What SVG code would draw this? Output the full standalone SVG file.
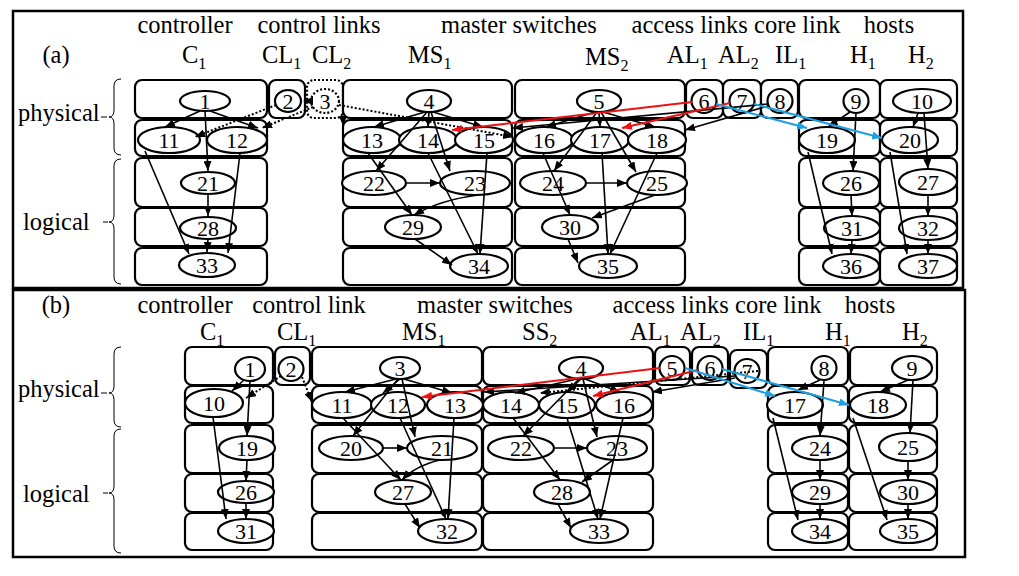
<svg xmlns="http://www.w3.org/2000/svg" width="1019" height="576" viewBox="0 0 1019 576" font-family="'Liberation Serif','Times New Roman',serif">
<style>
text{font-family:"Liberation Serif","Times New Roman",serif;fill:#000}
.h{font-size:24.5px}
.s{font-size:16px}
.n{font-size:22px;text-anchor:middle;dominant-baseline:central}
.box{fill:#fff;stroke:#000;stroke-width:2.2}
.dbox{fill:#fff;stroke:#000;stroke-width:2.2;stroke-dasharray:2 2}
.nd{fill:#fff;stroke:#000;stroke-width:2.2}
.dnd{fill:#fff;stroke:#000;stroke-width:2.2;stroke-dasharray:2 2}
.e{fill:none;stroke:#000;stroke-width:1.6;marker-end:url(#ab)}
.d{fill:none;stroke:#000;stroke-width:2;stroke-dasharray:2 2;marker-end:url(#ab)}
.r{fill:none;stroke:#ee1111;stroke-width:2;marker-end:url(#ar)}
.b{fill:none;stroke:#1ea0e0;stroke-width:2;marker-end:url(#abl)}
.br{fill:none;stroke:#000;stroke-width:1}
.frame{fill:none;stroke:#000;stroke-width:2.5}
</style>
<defs>
<marker id="ab" markerUnits="userSpaceOnUse" markerWidth="10" markerHeight="8" refX="10" refY="4" orient="auto"><path d="M0,0 L10,4 L0,8 z" fill="#000"/></marker>
<marker id="ar" markerUnits="userSpaceOnUse" markerWidth="10" markerHeight="8" refX="10" refY="4" orient="auto"><path d="M0,0 L10,4 L0,8 z" fill="#ee1111"/></marker>
<marker id="abl" markerUnits="userSpaceOnUse" markerWidth="10" markerHeight="8" refX="10" refY="4" orient="auto"><path d="M0,0 L10,4 L0,8 z" fill="#1ea0e0"/></marker>
</defs>
<rect width="1019" height="576" fill="#fff"/>

<!-- ================= PANEL (a) ================= -->
<rect class="frame" x="13" y="11" width="950" height="277"/>
<g id="a-labels">
<text class="h" x="185" y="33" text-anchor="middle">controller</text>
<text class="h" x="319" y="33" text-anchor="middle">control links</text>
<text class="h" x="519" y="33" text-anchor="middle">master switches</text>
<text class="h" x="736" y="33" text-anchor="middle">access links core link</text>
<text class="h" x="889" y="33" text-anchor="middle">hosts</text>
<text class="h" x="56" y="63" text-anchor="middle">(a)</text>
<text class="h" x="182" y="63">C<tspan class="s" dy="6">1</tspan></text>
<text class="h" x="262" y="63">CL<tspan class="s" dy="6">1</tspan></text>
<text class="h" x="312" y="63">CL<tspan class="s" dy="6">2</tspan></text>
<text class="h" x="408" y="63">MS<tspan class="s" dy="6">1</tspan></text>
<text class="h" x="585" y="65">MS<tspan class="s" dy="6">2</tspan></text>
<text class="h" x="667" y="63">AL<tspan class="s" dy="6">1</tspan></text>
<text class="h" x="718" y="63">AL<tspan class="s" dy="6">2</tspan></text>
<text class="h" x="775" y="63">IL<tspan class="s" dy="6">1</tspan></text>
<text class="h" x="850" y="63">H<tspan class="s" dy="6">1</tspan></text>
<text class="h" x="908" y="63">H<tspan class="s" dy="6">2</tspan></text>
<text class="h" x="18" y="121">physical</text>
<text class="h" x="23" y="230">logical</text>
<path class="br" d="M101,117 L107,117 M121,79 Q114,79 114,86 L114,110 Q114,117 109,117 Q114,117 114,124 L114,148 Q114,155 121,155"/>
<path class="br" d="M103,222 L108,222 M121,159 Q114,159 114,166 L114,215 Q114,222 109,222 Q114,222 114,229 L114,277 Q114,284 121,284"/>
</g>
<g id="a-boxes">
<rect class="box" x="135" y="80" width="132" height="38" rx="7"/>
<rect class="box" x="269" y="80" width="36" height="38" rx="7"/>
<rect class="dbox" x="307" y="80" width="36" height="38" rx="7"/>
<rect class="box" x="343" y="80" width="169" height="38" rx="7"/>
<rect class="box" x="515" y="80" width="170" height="38" rx="7"/>
<rect class="box" x="686" y="80" width="37" height="38" rx="7"/>
<rect class="box" x="723" y="80" width="38" height="38" rx="7"/>
<rect class="box" x="761" y="80" width="37" height="38" rx="7"/>
<rect class="box" x="799" y="80" width="81" height="38" rx="7"/>
<rect class="box" x="880" y="80" width="77" height="38" rx="7"/>
<rect class="box" x="135" y="120" width="132" height="36" rx="7"/>
<rect class="box" x="343" y="120" width="169" height="36" rx="7"/>
<rect class="box" x="515" y="120" width="170" height="36" rx="7"/>
<rect class="box" x="799" y="120" width="81" height="36" rx="7"/>
<rect class="box" x="880" y="120" width="77" height="36" rx="7"/>
<rect class="box" x="135" y="158" width="132" height="49" rx="7"/>
<rect class="box" x="343" y="158" width="169" height="49" rx="7"/>
<rect class="box" x="515" y="158" width="170" height="49" rx="7"/>
<rect class="box" x="799" y="158" width="81" height="49" rx="7"/>
<rect class="box" x="880" y="158" width="77" height="49" rx="7"/>
<rect class="box" x="135" y="208" width="132" height="38" rx="7"/>
<rect class="box" x="343" y="208" width="169" height="38" rx="7"/>
<rect class="box" x="515" y="208" width="170" height="38" rx="7"/>
<rect class="box" x="799" y="208" width="81" height="38" rx="7"/>
<rect class="box" x="880" y="208" width="77" height="38" rx="7"/>
<rect class="box" x="135" y="248" width="132" height="37" rx="7"/>
<rect class="box" x="343" y="248" width="169" height="37" rx="7"/>
<rect class="box" x="515" y="248" width="170" height="37" rx="7"/>
<rect class="box" x="799" y="248" width="81" height="37" rx="7"/>
<rect class="box" x="880" y="248" width="77" height="37" rx="7"/>
</g>
<g id="a-nodes">
<g id="a1"><ellipse class="nd" cx="205" cy="101" rx="25" ry="10"/><text class="n" x="205" y="101">1</text></g>
<g id="a2"><ellipse class="nd" cx="288" cy="101" rx="13" ry="11"/><text class="n" x="288" y="101">2</text></g>
<g id="a3"><ellipse class="dnd" cx="325" cy="101" rx="14" ry="12"/><text class="n" x="325" y="101">3</text></g>
<g id="a4"><ellipse class="nd" cx="429" cy="101" rx="22" ry="11"/><text class="n" x="429" y="101">4</text></g>
<g id="a5"><ellipse class="nd" cx="599" cy="101" rx="22" ry="11"/><text class="n" x="599" y="101">5</text></g>
<g id="a6"><ellipse class="nd" cx="704" cy="101" rx="12.5" ry="12"/><text class="n" x="704" y="101">6</text></g>
<g id="a7"><ellipse class="nd" cx="742" cy="101" rx="12.5" ry="12"/><text class="n" x="742" y="101">7</text></g>
<g id="a8"><ellipse class="nd" cx="780" cy="101" rx="12.5" ry="12"/><text class="n" x="780" y="101">8</text></g>
<g id="a9"><ellipse class="nd" cx="856" cy="101" rx="12.5" ry="12"/><text class="n" x="856" y="101">9</text></g>
<g id="a10"><ellipse class="nd" cx="922" cy="101" rx="29" ry="12"/><text class="n" x="922" y="101">10</text></g>
<g id="a11"><ellipse class="nd" cx="169" cy="140" rx="31" ry="13"/><text class="n" x="169" y="140">11</text></g>
<g id="a12"><ellipse class="nd" cx="237" cy="140" rx="30" ry="13"/><text class="n" x="237" y="140">12</text></g>
<g id="a13"><ellipse class="nd" cx="372" cy="140" rx="29" ry="13"/><text class="n" x="372" y="140">13</text></g>
<g id="a14"><ellipse class="nd" cx="428" cy="140" rx="29" ry="13"/><text class="n" x="428" y="140">14</text></g>
<g id="a15"><ellipse class="nd" cx="484" cy="140" rx="29" ry="13"/><text class="n" x="484" y="140">15</text></g>
<g id="a16"><ellipse class="nd" cx="544" cy="140" rx="29" ry="13"/><text class="n" x="544" y="140">16</text></g>
<g id="a17"><ellipse class="nd" cx="600" cy="140" rx="29" ry="13"/><text class="n" x="600" y="140">17</text></g>
<g id="a18"><ellipse class="nd" cx="657" cy="140" rx="29" ry="13"/><text class="n" x="657" y="140">18</text></g>
<g id="a19"><ellipse class="nd" cx="827" cy="140" rx="28" ry="13"/><text class="n" x="827" y="140">19</text></g>
<g id="a20"><ellipse class="nd" cx="910" cy="140" rx="28" ry="13"/><text class="n" x="910" y="140">20</text></g>
<g id="a21"><ellipse class="nd" cx="208" cy="183" rx="27" ry="11"/><text class="n" x="208" y="183">21</text></g>
<g id="a22"><ellipse class="nd" cx="374" cy="183" rx="32" ry="12"/><text class="n" x="374" y="183">22</text></g>
<g id="a23"><ellipse class="nd" cx="475" cy="183" rx="35" ry="12"/><text class="n" x="475" y="183">23</text></g>
<g id="a24"><ellipse class="nd" cx="553" cy="183" rx="33" ry="12"/><text class="n" x="553" y="183">24</text></g>
<g id="a25"><ellipse class="nd" cx="657" cy="183" rx="30" ry="12"/><text class="n" x="657" y="183">25</text></g>
<g id="a26"><ellipse class="nd" cx="851" cy="183" rx="28" ry="12"/><text class="n" x="851" y="183">26</text></g>
<g id="a27"><ellipse class="nd" cx="928" cy="182" rx="29" ry="13"/><text class="n" x="928" y="182">27</text></g>
<g id="a28"><ellipse class="nd" cx="208" cy="228" rx="28" ry="11"/><text class="n" x="208" y="228">28</text></g>
<g id="a29"><ellipse class="nd" cx="413" cy="227" rx="28" ry="12"/><text class="n" x="413" y="227">29</text></g>
<g id="a30"><ellipse class="nd" cx="570" cy="227" rx="28" ry="12"/><text class="n" x="570" y="227">30</text></g>
<g id="a31"><ellipse class="nd" cx="852" cy="228" rx="28" ry="12"/><text class="n" x="852" y="228">31</text></g>
<g id="a32"><ellipse class="nd" cx="928" cy="228" rx="29" ry="12"/><text class="n" x="928" y="228">32</text></g>
<g id="a33"><ellipse class="nd" cx="207" cy="265" rx="28" ry="12"/><text class="n" x="207" y="265">33</text></g>
<g id="a34"><ellipse class="nd" cx="479" cy="266" rx="29" ry="12"/><text class="n" x="479" y="266">34</text></g>
<g id="a35"><ellipse class="nd" cx="608" cy="266" rx="29" ry="12"/><text class="n" x="608" y="266">35</text></g>
<g id="a36"><ellipse class="nd" cx="851" cy="266" rx="28" ry="12"/><text class="n" x="851" y="266">36</text></g>
<g id="a37"><ellipse class="nd" cx="928" cy="266" rx="29" ry="12"/><text class="n" x="928" y="266">37</text></g>
</g>
<g id="a-edges">
<path class="e" d="M200,111 L165,127"/>
<path class="e" d="M210,111 L258,128"/>
<path class="e" d="M205,111 L208,171"/>
<path class="e" d="M208,194 L208,216"/>
<path class="e" d="M208,239 L207,252"/>
<path class="e" d="M145,151 L189,254"/>
<path class="e" d="M240,153 L228,253"/>
<path class="d" d="M276,105 L195,137"/>
<path class="d" d="M313,107 L262,128"/>
<path class="d" d="M311,101 L303,101"/>
<path class="d" d="M343,84 L343,126"/>
<path class="d" d="M339,105 L513,137"/>
<path class="e" d="M425,112 L374,127"/>
<path class="e" d="M429,112 L428,127"/>
<path class="e" d="M433,112 L483,127"/>
<path class="e" d="M427,112 L376,171"/>
<path class="e" d="M431,112 L450,171"/>
<path class="e" d="M368,153 L412,215"/>
<path class="e" d="M428,153 L478,254"/>
<path class="e" d="M487,153 L480,254"/>
<path class="e" d="M406,183 L440,183"/>
<path class="e" d="M478,195 Q440,200 414,215"/>
<path class="e" d="M415,239 L452,265"/>
<path class="e" d="M595,112 L546,127"/>
<path class="e" d="M599,112 L600,127"/>
<path class="e" d="M603,112 L655,127"/>
<path class="e" d="M597,112 L554,171"/>
<path class="e" d="M601,112 L636,172"/>
<path class="e" d="M543,153 L570,215"/>
<path class="e" d="M602,153 L608,254"/>
<path class="e" d="M657,153 L610,254"/>
<path class="e" d="M586,183 L627,183"/>
<path class="e" d="M655,195 L592,218"/>
<path class="e" d="M568,239 L578,263"/>
<path class="e" d="M768,106 L685,130"/>
<path class="e" d="M768,104 L513,128"/>
<path class="e" d="M850,112 L828,127"/>
<path class="e" d="M856,113 L853,171"/>
<path class="e" d="M918,113 L913,127"/>
<path class="e" d="M924,113 L928,169"/>
<path class="e" d="M808,152 L832,254"/>
<path class="e" d="M890,152 L907,254"/>
<path class="e" d="M851,195 L852,216"/>
<path class="e" d="M852,240 L851,254"/>
<path class="e" d="M928,195 L928,216"/>
<path class="e" d="M928,240 L928,254"/>
<path class="r" d="M692,102 L452,130"/>
<path class="r" d="M730,103 L622,128"/>
<path class="b" d="M716,104 L807,128"/>
<path class="b" d="M754,104 L882,138"/>
</g>

<!-- ================= PANEL (b) ================= -->
<rect class="frame" x="13" y="290" width="952" height="267"/>
<g id="b-labels">
<text class="h" x="56" y="313" text-anchor="middle">(b)</text>
<text class="h" x="185" y="313" text-anchor="middle">controller</text>
<text class="h" x="309" y="313" text-anchor="middle">control link</text>
<text class="h" x="495" y="313" text-anchor="middle">master switches</text>
<text class="h" x="717" y="313" text-anchor="middle">access links core link</text>
<text class="h" x="870" y="313" text-anchor="middle">hosts</text>
<text class="h" x="200" y="340">C<tspan class="s" dy="6">1</tspan></text>
<text class="h" x="277" y="340">CL<tspan class="s" dy="6">1</tspan></text>
<text class="h" x="402" y="340">MS<tspan class="s" dy="6">1</tspan></text>
<text class="h" x="522" y="340">SS<tspan class="s" dy="6">2</tspan></text>
<text class="h" x="630" y="340">AL<tspan class="s" dy="6">1</tspan></text>
<text class="h" x="680" y="340">AL<tspan class="s" dy="6">2</tspan></text>
<text class="h" x="743" y="340">IL<tspan class="s" dy="6">1</tspan></text>
<text class="h" x="825" y="340">H<tspan class="s" dy="6">1</tspan></text>
<text class="h" x="902" y="340">H<tspan class="s" dy="6">2</tspan></text>
<text class="h" x="18" y="397">physical</text>
<text class="h" x="23" y="502">logical</text>
<path class="br" d="M101,393 L107,393 M121,347 Q114,347 114,354 L114,386 Q114,393 109,393 Q114,393 114,400 L114,420 Q114,427 121,427"/>
<path class="br" d="M103,493 L108,493 M121,429 Q114,429 114,436 L114,486 Q114,493 109,493 Q114,493 114,500 L114,546 Q114,553 121,553"/>
</g>
<g id="b-boxes">
<rect class="box" x="185" y="347" width="88" height="38" rx="7"/>
<rect class="box" x="275" y="347" width="35" height="38" rx="7"/>
<rect class="box" x="312" y="347" width="170" height="38" rx="7"/>
<rect class="box" x="483" y="347" width="170" height="38" rx="7"/>
<rect class="box" x="655" y="347" width="35" height="38" rx="7"/>
<rect class="box" x="692" y="347" width="36" height="38" rx="7"/>
<rect class="box" x="730" y="350" width="37" height="38" rx="7"/>
<rect class="box" x="768" y="347" width="80" height="38" rx="7"/>
<rect class="box" x="850" y="347" width="87" height="38" rx="7"/>
<rect class="box" x="185" y="386" width="88" height="37" rx="7"/>
<rect class="box" x="312" y="386" width="170" height="37" rx="7"/>
<rect class="box" x="483" y="386" width="170" height="37" rx="7"/>
<rect class="box" x="768" y="386" width="80" height="37" rx="7"/>
<rect class="box" x="849" y="386" width="88" height="37" rx="7"/>
<rect class="box" x="185" y="425" width="88" height="48" rx="7"/>
<rect class="box" x="312" y="425" width="170" height="48" rx="7"/>
<rect class="box" x="483" y="425" width="170" height="48" rx="7"/>
<rect class="box" x="768" y="425" width="80" height="48" rx="7"/>
<rect class="box" x="849" y="425" width="88" height="48" rx="7"/>
<rect class="box" x="185" y="474" width="88" height="38" rx="7"/>
<rect class="box" x="312" y="474" width="170" height="38" rx="7"/>
<rect class="box" x="483" y="474" width="170" height="38" rx="7"/>
<rect class="box" x="768" y="474" width="80" height="38" rx="7"/>
<rect class="box" x="849" y="474" width="88" height="38" rx="7"/>
<rect class="box" x="185" y="513" width="88" height="37" rx="7"/>
<rect class="box" x="312" y="513" width="170" height="37" rx="7"/>
<rect class="box" x="483" y="513" width="170" height="37" rx="7"/>
<rect class="box" x="768" y="513" width="80" height="37" rx="7"/>
<rect class="box" x="849" y="513" width="88" height="37" rx="7"/>
</g>
<g id="b-nodes">
<g id="b1"><ellipse class="nd" cx="250" cy="369" rx="15" ry="12"/><text class="n" x="250" y="369">1</text></g>
<g id="b2"><ellipse class="nd" cx="291" cy="369" rx="12.5" ry="12"/><text class="n" x="291" y="369">2</text></g>
<g id="b3"><ellipse class="nd" cx="400" cy="368" rx="20" ry="11"/><text class="n" x="400" y="368">3</text></g>
<g id="b4"><ellipse class="nd" cx="581" cy="368" rx="22" ry="11"/><text class="n" x="581" y="368">4</text></g>
<g id="b5"><ellipse class="nd" cx="672" cy="368" rx="12.5" ry="12"/><text class="n" x="672" y="368">5</text></g>
<g id="b6"><ellipse class="nd" cx="710" cy="368" rx="12.5" ry="12"/><text class="n" x="710" y="368">6</text></g>
<g id="b7"><ellipse class="nd" cx="747" cy="371" rx="12.5" ry="12"/><text class="n" x="747" y="371">7</text></g>
<g id="b8"><ellipse class="nd" cx="824" cy="368" rx="12.5" ry="12"/><text class="n" x="824" y="368">8</text></g>
<g id="b9"><ellipse class="nd" cx="912" cy="368" rx="20" ry="12"/><text class="n" x="912" y="368">9</text></g>
<g id="b10"><ellipse class="nd" cx="214" cy="403" rx="29" ry="14"/><text class="n" x="214" y="403">10</text></g>
<g id="b11"><ellipse class="nd" cx="342" cy="405" rx="30" ry="13"/><text class="n" x="342" y="405">11</text></g>
<g id="b12"><ellipse class="nd" cx="398" cy="405" rx="27" ry="13"/><text class="n" x="398" y="405">12</text></g>
<g id="b13"><ellipse class="nd" cx="455" cy="405" rx="28" ry="13"/><text class="n" x="455" y="405">13</text></g>
<g id="b14"><ellipse class="nd" cx="511" cy="405" rx="28" ry="13"/><text class="n" x="511" y="405">14</text></g>
<g id="b15"><ellipse class="nd" cx="567" cy="405" rx="28" ry="13"/><text class="n" x="567" y="405">15</text></g>
<g id="b16"><ellipse class="nd" cx="624" cy="405" rx="28" ry="13"/><text class="n" x="624" y="405">16</text></g>
<g id="b17"><ellipse class="nd" cx="795" cy="405" rx="28" ry="13"/><text class="n" x="795" y="405">17</text></g>
<g id="b18"><ellipse class="nd" cx="878" cy="405" rx="28" ry="13"/><text class="n" x="878" y="405">18</text></g>
<g id="b19"><ellipse class="nd" cx="247" cy="448" rx="28" ry="12"/><text class="n" x="247" y="448">19</text></g>
<g id="b20"><ellipse class="nd" cx="351" cy="448" rx="32" ry="12"/><text class="n" x="351" y="448">20</text></g>
<g id="b21"><ellipse class="nd" cx="442" cy="448" rx="35" ry="12"/><text class="n" x="442" y="448">21</text></g>
<g id="b22"><ellipse class="nd" cx="521" cy="448" rx="33" ry="12"/><text class="n" x="521" y="448">22</text></g>
<g id="b23"><ellipse class="nd" cx="617" cy="448" rx="30" ry="12"/><text class="n" x="617" y="448">23</text></g>
<g id="b24"><ellipse class="nd" cx="820" cy="448" rx="28" ry="12"/><text class="n" x="820" y="448">24</text></g>
<g id="b25"><ellipse class="nd" cx="908" cy="447" rx="29" ry="14"/><text class="n" x="908" y="447">25</text></g>
<g id="b26"><ellipse class="nd" cx="246" cy="492" rx="28" ry="11"/><text class="n" x="246" y="492">26</text></g>
<g id="b27"><ellipse class="nd" cx="403" cy="492" rx="28" ry="12"/><text class="n" x="403" y="492">27</text></g>
<g id="b28"><ellipse class="nd" cx="562" cy="492" rx="28" ry="12"/><text class="n" x="562" y="492">28</text></g>
<g id="b29"><ellipse class="nd" cx="820" cy="492" rx="28" ry="12"/><text class="n" x="820" y="492">29</text></g>
<g id="b30"><ellipse class="nd" cx="908" cy="492" rx="28" ry="12"/><text class="n" x="908" y="492">30</text></g>
<g id="b31"><ellipse class="nd" cx="246" cy="531" rx="28" ry="12"/><text class="n" x="246" y="531">31</text></g>
<g id="b32"><ellipse class="nd" cx="447" cy="531" rx="29" ry="12"/><text class="n" x="447" y="531">32</text></g>
<g id="b33"><ellipse class="nd" cx="599" cy="531" rx="29" ry="12"/><text class="n" x="599" y="531">33</text></g>
<g id="b34"><ellipse class="nd" cx="820" cy="531" rx="28" ry="12"/><text class="n" x="820" y="531">34</text></g>
<g id="b35"><ellipse class="nd" cx="908" cy="531" rx="28" ry="12"/><text class="n" x="908" y="531">35</text></g>
</g>
<g id="b-edges">
<path class="e" d="M244,380 L232,391"/>
<path class="e" d="M250,381 L247,436"/>
<path class="d" d="M281,376 L246,398"/>
<path class="d" d="M302,377 L312,402"/>
<path class="e" d="M213,417 L226,519"/>
<path class="e" d="M247,460 L246,481"/>
<path class="e" d="M246,503 L246,519"/>
<path class="e" d="M396,379 L345,392"/>
<path class="e" d="M400,379 L383,393"/>
<path class="e" d="M404,379 L452,393"/>
<path class="e" d="M398,379 L353,436"/>
<path class="e" d="M402,379 L415,437"/>
<path class="e" d="M343,418 L401,480"/>
<path class="e" d="M400,418 L446,519"/>
<path class="e" d="M454,418 L448,519"/>
<path class="e" d="M383,448 L407,448"/>
<path class="e" d="M440,460 Q415,466 402,480"/>
<path class="e" d="M405,504 L420,528"/>
<path class="e" d="M577,379 L515,393"/>
<path class="e" d="M581,379 L567,392"/>
<path class="e" d="M585,379 L620,392"/>
<path class="e" d="M579,379 L523,436"/>
<path class="e" d="M583,379 L597,437"/>
<path class="e" d="M513,418 L560,480"/>
<path class="e" d="M567,418 L598,519"/>
<path class="e" d="M623,418 L600,519"/>
<path class="e" d="M554,448 L587,448"/>
<path class="e" d="M613,460 L582,482"/>
<path class="e" d="M558,504 L571,528"/>
<path class="e" d="M735,376 L484,392"/>
<path class="e" d="M735,378 L652,392"/>
<path class="d" d="M758,371 L540,393"/>
<path class="e" d="M820,380 L798,390"/>
<path class="e" d="M824,381 L820,436"/>
<path class="e" d="M908,380 L880,392"/>
<path class="e" d="M913,380 L910,433"/>
<path class="e" d="M773,418 L798,520"/>
<path class="e" d="M853,418 L887,520"/>
<path class="e" d="M820,460 L820,480"/>
<path class="e" d="M820,504 L820,519"/>
<path class="e" d="M908,461 L908,480"/>
<path class="e" d="M908,504 L908,519"/>
<path class="r" d="M660,368 L422,397"/>
<path class="r" d="M698,370 L593,396"/>
<path class="b" d="M685,368 L775,396"/>
<path class="b" d="M722,369 L849,405"/>
</g>
</svg>
